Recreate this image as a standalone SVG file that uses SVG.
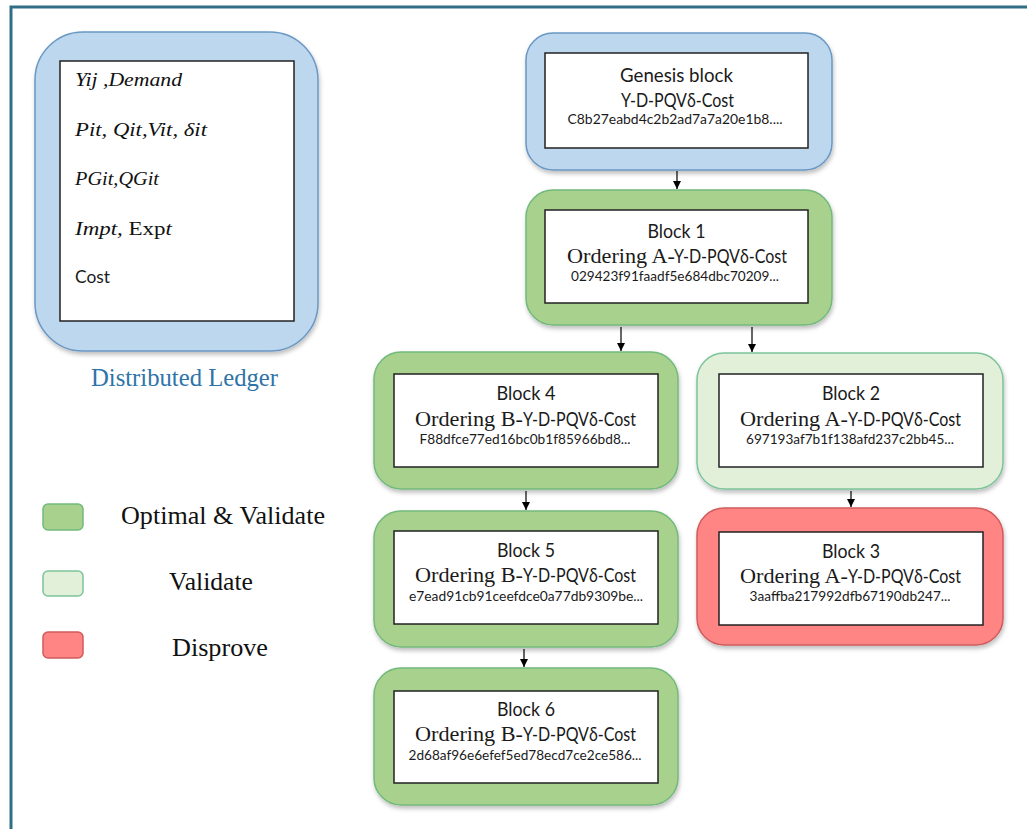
<svg xmlns="http://www.w3.org/2000/svg" width="1027" height="829" viewBox="0 0 1027 829">
<style>
.frame{fill:none;stroke:#2F6E84;stroke-width:3}
.inner{fill:#ffffff;stroke:#222222;stroke-width:1.5}
.blue{fill:#BDD7EE;stroke:#6A98C4;stroke-width:1.5}
.green{fill:#A9D18E;stroke:#72B97C;stroke-width:1.5}
.light{fill:#E2F0D9;stroke:#7CC49A;stroke-width:1.5}
.red{fill:#FF8585;stroke:#CF5C5C;stroke-width:1.5}
.title{font-family:Lato,"Liberation Sans",sans-serif;font-size:19px;fill:#1a1a1a;text-anchor:middle}
.sans{font-family:Lato,"Liberation Sans",sans-serif;font-size:19px;fill:#1a1a1a}
.ser{font-family:"Liberation Serif",serif;font-size:21px;fill:#1a1a1a}
.hash{font-family:Lato,"Liberation Sans",sans-serif;font-size:13px;fill:#1a1a1a;text-anchor:middle}
.math{font-family:"Liberation Serif",serif;font-style:italic;font-size:18px;fill:#111}
.up{font-style:normal}
.leg{font-family:"Liberation Serif",serif;font-size:25px;fill:#111}
.conn line{stroke:#000;stroke-width:1.2}
</style>
<defs>
<filter id="sh" x="-10%" y="-10%" width="120%" height="125%">
<feDropShadow dx="1" dy="3" stdDeviation="2" flood-color="#000" flood-opacity="0.25"/>
</filter>
<marker id="ah" viewBox="0 0 10 10" refX="10" refY="5" markerWidth="8" markerHeight="8" markerUnits="userSpaceOnUse" orient="auto">
<path d="M0,0 L10,5 L0,10 Z" fill="#000"/>
</marker>
</defs>
<rect width="1027" height="829" fill="#ffffff"/>
<path class="frame" d="M11,829 V7 H1027"/>

<g id="ledger">
<rect class="blue" x="35" y="32" width="283" height="319" rx="48" filter="url(#sh)"/>
<rect class="inner" x="60" y="61" width="234" height="260"/>
<text class="math" x="75" y="86" textLength="107" lengthAdjust="spacingAndGlyphs">Yij ,Demand</text>
<text class="math" x="75" y="136" textLength="132" lengthAdjust="spacingAndGlyphs">Pit, Qit,Vit, δit</text>
<text class="math" x="75" y="185" textLength="84" lengthAdjust="spacingAndGlyphs">PGit,QGit</text>
<text class="math" x="75" y="235" textLength="97" lengthAdjust="spacingAndGlyphs">Impt, <tspan class="up">Exp</tspan>t</text>
<text class="sans" x="75" y="283" style="font-size:18px" textLength="35" lengthAdjust="spacingAndGlyphs">Cost</text>
<text x="91" y="386" style="font-family:'Liberation Serif',serif;font-size:24.5px;fill:#2E74A8" textLength="187" lengthAdjust="spacingAndGlyphs">Distributed Ledger</text>
</g>

<g id="legend">
<rect class="green" x="43" y="504" width="40" height="26" rx="5"/>
<text class="leg" x="121" y="524" textLength="204" lengthAdjust="spacingAndGlyphs">Optimal &amp; Validate</text>
<rect class="light" x="43" y="571" width="40" height="25" rx="5"/>
<text class="leg" x="169" y="590" textLength="84" lengthAdjust="spacingAndGlyphs">Validate</text>
<rect class="red" x="43" y="632" width="40" height="26" rx="5"/>
<text class="leg" x="172" y="656" textLength="96" lengthAdjust="spacingAndGlyphs">Disprove</text>
</g>

<g id="genesis">
<rect class="blue" x="526" y="33" width="306" height="137" rx="27" filter="url(#sh)"/>
<rect class="inner" x="545" y="53" width="263" height="95"/>
<text class="title" x="676.5" y="82" textLength="113" lengthAdjust="spacingAndGlyphs">Genesis block</text>
<text class="title" x="677.5" y="107" textLength="113" lengthAdjust="spacingAndGlyphs">Y-D-PQVδ-Cost</text>
<text class="hash" x="675" y="124" textLength="215" lengthAdjust="spacingAndGlyphs">C8b27eabd4c2b2ad7a7a20e1b8....</text>
</g>

<g id="block1">
<rect class="green" x="526" y="190" width="306" height="135" rx="27" filter="url(#sh)"/>
<rect class="inner" x="545" y="210" width="263" height="93"/>
<text class="title" x="676.5" y="238" textLength="58" lengthAdjust="spacingAndGlyphs">Block 1</text>
<text class="ser" x="567" y="262.5" textLength="108" lengthAdjust="spacingAndGlyphs">Ordering A-</text>
<text class="sans" x="674" y="262.5" textLength="113" lengthAdjust="spacingAndGlyphs">Y-D-PQVδ-Cost</text>
<text class="hash" x="675" y="280.5" textLength="208" lengthAdjust="spacingAndGlyphs">029423f91faadf5e684dbc70209...</text>
</g>

<g id="block4">
<rect class="green" x="374" y="352" width="304" height="137" rx="27" filter="url(#sh)"/>
<rect class="inner" x="394" y="374" width="264" height="93"/>
<text class="title" x="526" y="400" textLength="59" lengthAdjust="spacingAndGlyphs">Block 4</text>
<text class="ser" x="415" y="425.5" textLength="108" lengthAdjust="spacingAndGlyphs">Ordering B-</text>
<text class="sans" x="523" y="425.5" textLength="113" lengthAdjust="spacingAndGlyphs">Y-D-PQVδ-Cost</text>
<text class="hash" x="525" y="443.5" textLength="211" lengthAdjust="spacingAndGlyphs">F88dfce77ed16bc0b1f85966bd8...</text>
</g>

<g id="block2">
<rect class="light" x="697" y="353" width="306" height="136" rx="27" filter="url(#sh)"/>
<rect class="inner" x="719" y="374" width="264" height="93"/>
<text class="title" x="851" y="400" textLength="58" lengthAdjust="spacingAndGlyphs">Block 2</text>
<text class="ser" x="740" y="425.5" textLength="108" lengthAdjust="spacingAndGlyphs">Ordering A-</text>
<text class="sans" x="848" y="425.5" textLength="113" lengthAdjust="spacingAndGlyphs">Y-D-PQVδ-Cost</text>
<text class="hash" x="850" y="443.5" textLength="208" lengthAdjust="spacingAndGlyphs">697193af7b1f138afd237c2bb45...</text>
</g>

<g id="block5">
<rect class="green" x="374" y="511" width="304" height="136" rx="27" filter="url(#sh)"/>
<rect class="inner" x="394" y="531" width="264" height="93"/>
<text class="title" x="526" y="557" textLength="58" lengthAdjust="spacingAndGlyphs">Block 5</text>
<text class="ser" x="415" y="582" textLength="108" lengthAdjust="spacingAndGlyphs">Ordering B-</text>
<text class="sans" x="523" y="582" textLength="113" lengthAdjust="spacingAndGlyphs">Y-D-PQVδ-Cost</text>
<text class="hash" x="526" y="600.5" textLength="234" lengthAdjust="spacingAndGlyphs">e7ead91cb91ceefdce0a77db9309be...</text>
</g>

<g id="block3">
<rect class="red" x="697" y="508" width="306" height="137" rx="27" filter="url(#sh)"/>
<rect class="inner" x="719" y="532" width="264" height="93"/>
<text class="title" x="851" y="557.5" textLength="58" lengthAdjust="spacingAndGlyphs">Block 3</text>
<text class="ser" x="740" y="582.5" textLength="108" lengthAdjust="spacingAndGlyphs">Ordering A-</text>
<text class="sans" x="848" y="582.5" textLength="113" lengthAdjust="spacingAndGlyphs">Y-D-PQVδ-Cost</text>
<text class="hash" x="850" y="600.5" textLength="201" lengthAdjust="spacingAndGlyphs">3aaffba217992dfb67190db247...</text>
</g>

<g id="block6">
<rect class="green" x="374" y="668" width="304" height="137" rx="27" filter="url(#sh)"/>
<rect class="inner" x="394" y="691" width="264" height="92"/>
<text class="title" x="526" y="716" textLength="58" lengthAdjust="spacingAndGlyphs">Block 6</text>
<text class="ser" x="415" y="741" textLength="108" lengthAdjust="spacingAndGlyphs">Ordering B-</text>
<text class="sans" x="523" y="741" textLength="113" lengthAdjust="spacingAndGlyphs">Y-D-PQVδ-Cost</text>
<text class="hash" x="525" y="759.5" textLength="233" lengthAdjust="spacingAndGlyphs">2d68af96e6efef5ed78ecd7ce2ce586...</text>
</g>

<g id="connectors" class="conn">
<line x1="677" y1="171" x2="677" y2="189" marker-end="url(#ah)"/>
<line x1="621" y1="327" x2="621" y2="351" marker-end="url(#ah)"/>
<line x1="752" y1="327" x2="752" y2="352" marker-end="url(#ah)"/>
<line x1="526" y1="491" x2="526" y2="510" marker-end="url(#ah)"/>
<line x1="851" y1="491" x2="851" y2="507" marker-end="url(#ah)"/>
<line x1="524" y1="649" x2="524" y2="667" marker-end="url(#ah)"/>
</g>
</svg>
